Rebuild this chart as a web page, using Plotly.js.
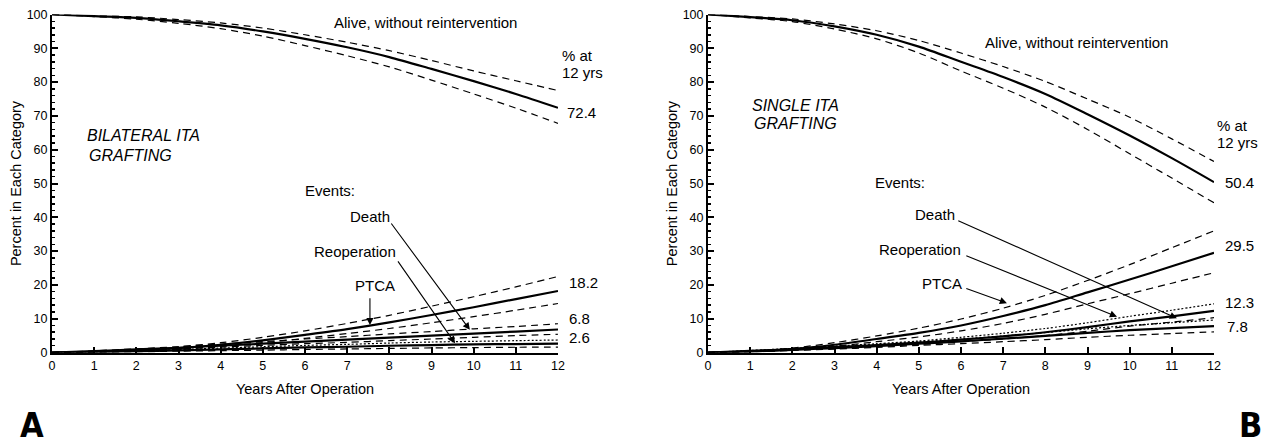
<!DOCTYPE html>
<html><head><meta charset="utf-8">
<script src="https://cdn.plot.ly/plotly-3.0.1.min.js"></script>
<style>html,body{margin:0;padding:0;background:#fff}#chart{width:1264px;height:446px}</style>
</head><body><div id="chart"></div>
<script>
// ---- data ----
const years = [0,1,2,3,4,5,6,7,8,9,10,11,12];

// Panel A: bilateral ITA grafting
const aliveA   = [100,99.5,99.0,98.0,96.8,95.0,92.8,90.3,87.4,83.9,80.3,76.5,72.4];
const aliveAUp = [100,99.6,99.3,98.5,97.5,96.0,94.0,91.8,89.3,86.4,83.3,80.4,77.5];
const aliveALo = [100,99.4,98.6,97.4,95.8,93.6,90.8,87.8,84.5,80.6,76.5,72.3,67.8];
const ptcaA    = [0,0.2,0.6,1.3,2.3,3.6,5.2,6.9,8.9,11.1,13.4,15.8,18.2];
const ptcaAUp  = [0,0.3,0.8,1.7,2.9,4.5,6.4,8.6,11.0,13.7,16.5,19.4,22.5];
const ptcaALo  = [0,0.15,0.5,1.0,1.8,2.9,4.2,5.6,7.1,8.8,10.6,12.5,14.5];
const deathA   = [0,0.4,0.9,1.4,2.0,2.6,3.2,3.8,4.4,5.0,5.6,6.2,6.8];
const deathAUp = [0,0.5,1.1,1.7,2.5,3.2,4.0,4.7,5.5,6.2,7.0,7.7,8.5];
const deathALo = [0,0.3,0.7,1.1,1.6,2.1,2.6,3.0,3.5,4.0,4.5,5.0,5.4];
const reopA    = [0,0.1,0.3,0.6,0.9,1.2,1.5,1.7,2.0,2.2,2.4,2.5,2.6];
const reopAUp  = [0,0.15,0.45,0.85,1.3,1.7,2.1,2.4,2.8,3.1,3.3,3.5,3.7];
const reopALo  = [0,0.05,0.2,0.4,0.55,0.7,0.9,1.05,1.2,1.35,1.45,1.55,1.6];

// Panel B: single ITA grafting
const aliveB   = [100,99.2,98.3,96.5,94.0,90.5,86.0,81.5,76.5,70.5,64.2,57.5,50.4];
const aliveBUp = [100,99.4,98.7,97.2,95.2,92.3,88.6,84.6,80.2,75.0,69.6,63.2,56.5];
const aliveBLo = [100,99.0,97.9,95.7,92.8,88.6,83.3,78.2,72.6,66.0,58.8,51.6,44.3];
const ptcaB    = [0,0.3,1.0,2.3,4.0,5.8,8.0,10.8,14.0,17.8,21.6,25.5,29.5];
const ptcaBUp  = [0,0.4,1.3,2.9,4.9,7.2,9.9,13.1,16.9,21.3,26.0,31.0,36.0];
const ptcaBLo  = [0,0.25,0.8,1.8,3.2,4.6,6.4,8.6,11.3,14.4,17.4,20.5,23.6];
const deathB   = [0,0.5,1.0,1.6,2.2,2.9,3.8,4.8,6.0,7.5,9.2,10.7,12.3];
const deathBUp = [0,0.6,1.2,1.9,2.6,3.4,4.5,5.7,7.1,8.8,10.7,12.5,14.4];
const deathBLo = [0,0.4,0.8,1.3,1.8,2.4,3.2,4.0,5.0,6.3,7.8,9.0,10.3];
const reopB    = [0,0.3,0.8,1.3,1.9,2.6,3.3,4.1,4.9,5.8,6.6,7.2,7.8];
const reopBUp  = [0,0.4,1.0,1.6,2.3,3.1,4.0,4.9,5.9,7.0,8.0,8.8,9.6];
const reopBLo  = [0,0.2,0.6,1.0,1.5,2.1,2.6,3.2,3.8,4.5,5.1,5.6,6.1];

const xTicks = [0,1,2,3,4,5,6,7,8,9,10,11,12];
const yTicks = [0,10,20,30,40,50,60,70,80,90,100];

// ---- drawing ----
const FONT = 'Liberation Sans, Arial, Helvetica, sans-serif';
const W = 1264, H = 446;
const STY = {
  solid:  {color:'#000', width:2.2, dash:'solid'},
  dashed: {color:'#000', width:1.2, dash:'7px,5px'},
  dotted: {color:'#000', width:1.2, dash:'2px,2px'}
};
function tr(y, style, xa, ya){
  return {x: years, y: y, xaxis: xa, yaxis: ya, type:'scatter', mode:'lines',
          line: Object.assign({shape:'spline', smoothing:0.8}, STY[style]),
          hoverinfo:'skip', showlegend:false};
}
const traces = [
  tr(aliveAUp,'dashed','x','y'), tr(aliveALo,'dashed','x','y'), tr(aliveA,'solid','x','y'),
  tr(ptcaAUp,'dashed','x','y'), tr(ptcaALo,'dashed','x','y'), tr(ptcaA,'solid','x','y'),
  tr(deathAUp,'dashed','x','y'), tr(deathALo,'dashed','x','y'), tr(deathA,'solid','x','y'),
  tr(reopAUp,'dotted','x','y'), tr(reopALo,'dashed','x','y'), tr(reopA,'solid','x','y'),
  tr(aliveBUp,'dashed','x2','y2'), tr(aliveBLo,'dashed','x2','y2'), tr(aliveB,'solid','x2','y2'),
  tr(ptcaBUp,'dashed','x2','y2'), tr(ptcaBLo,'dashed','x2','y2'), tr(ptcaB,'solid','x2','y2'),
  tr(deathBUp,'dotted','x2','y2'), tr(deathBLo,'dashed','x2','y2'), tr(deathB,'solid','x2','y2'),
  tr(reopBUp,'dotted','x2','y2'), tr(reopBLo,'dashed','x2','y2'), tr(reopB,'solid','x2','y2')
];

function txt(px, py, text, size, anchor, extra){
  return Object.assign({xref:'paper', yref:'paper', x: px/W, y: 1 - py/H, text: text,
    showarrow:false, xanchor: anchor || 'left', yanchor:'middle', align:'left',
    font:{family:FONT, size:size||15, color:'#000'}}, extra||{});
}
function arrow(xa, ya, tipX, tipY, tailX, tailY){
  return {xref:xa, yref:ya, axref:xa, ayref:ya, x:tipX, y:tipY, ax:tailX, ay:tailY,
    text:'', showarrow:true, arrowhead:2, arrowsize:1.3, arrowwidth:1.1, arrowcolor:'#000'};
}
const LETTER_FONT = {family:'Liberation Sans Narrow, DejaVu Sans Condensed, sans-serif', size:34, color:'#000'};

const annotations = [
  // Panel A
  txt(332, 22, 'Alive, without reintervention'),
  txt(560, 55, '% at'), txt(560, 72, '12 yrs'),
  txt(565, 112, '72.4'),
  txt(85, 135, '<i>BILATERAL ITA</i>', 16), txt(87, 155, '<i>GRAFTING</i>', 16),
  txt(303, 190, 'Events:'),
  txt(348, 217, 'Death'),
  txt(312, 252, 'Reoperation'),
  txt(353, 285, 'PTCA'),
  txt(567, 282, '18.2'), txt(567, 318, '6.8'), txt(567, 337, '2.6'),
  arrow('x','y', 9.91, 6.7, 8.02, 38.6),
  arrow('x','y', 9.56, 2.7, 8.18, 27.4),
  arrow('x','y', 7.54, 8.1, 7.54, 16.5),
  // Panel B
  txt(983, 42, 'Alive, without reintervention'),
  txt(1215, 125, '% at'), txt(1215, 142, '12 yrs'),
  txt(1223, 183, '50.4'),
  txt(750, 105, '<i>SINGLE ITA</i>', 16), txt(752, 123, '<i>GRAFTING</i>', 16),
  txt(873, 183, 'Events:'),
  txt(913, 215, 'Death'),
  txt(877, 250, 'Reoperation'),
  txt(920, 283, 'PTCA'),
  txt(1223, 245, '29.5'), txt(1223, 302, '12.3'), txt(1225, 326, '7.8'),
  arrow('x2','y2', 11.12, 10.1, 5.9, 39.2),
  arrow('x2','y2', 9.70, 10.6, 6.09, 28.8),
  arrow('x2','y2', 7.09, 14.6, 6.09, 19.1),
  // panel letters
  txt(19, 445.5, '<b>A</b>', 34, 'left', {yanchor:'bottom', borderpad:0, font:LETTER_FONT}),
  txt(1263, 445.5, '<b>B</b>', 34, 'right', {yanchor:'bottom', borderpad:0, font:LETTER_FONT})
];

function xaxisDef(domain, anchor){
  return {domain: domain, anchor: anchor, range:[0,12], tickvals: xTicks, ticktext: xTicks.map(String),
    ticks:'inside', ticklen:6, tickwidth:2, tickcolor:'#000',
    showline:true, linewidth:2, linecolor:'#000', showgrid:false, zeroline:false,
    tickfont:{family:FONT, size:12.5, color:'#000'},
    title:{text:'Years After Operation', font:{family:FONT, size:14.5, color:'#000'}, standoff:12}};
}
function yaxisDef(anchor){
  return {domain:[(H-352.5)/H, (H-14.5)/H], anchor: anchor, range:[0,100], tickvals: yTicks, ticktext: yTicks.map(String),
    ticks:'inside', ticklen:6, tickwidth:2, tickcolor:'#000',
    minor:{dtick:2, ticks:'inside', ticklen:3, tickwidth:1.5, tickcolor:'#000', showgrid:false},
    showline:true, linewidth:2, linecolor:'#000', showgrid:false, zeroline:false,
    tickfont:{family:FONT, size:12.5, color:'#000'},
    title:{text:'Percent in Each Category', font:{family:FONT, size:14.5, color:'#000'}, standoff:2}};
}

const layout = {
  width: W, height: H,
  margin:{l:0, r:0, t:0, b:0, pad:0},
  paper_bgcolor:'#fff', plot_bgcolor:'#fff',
  showlegend:false,
  xaxis: xaxisDef([52/W, 558/W], 'y'),
  yaxis: yaxisDef('x'),
  xaxis2: xaxisDef([708/W, 1214/W], 'y2'),
  yaxis2: yaxisDef('x2'),
  annotations: annotations
};

Plotly.newPlot('chart', traces, layout, {displayModeBar:false, staticPlot:true});
</script>
</body></html>
